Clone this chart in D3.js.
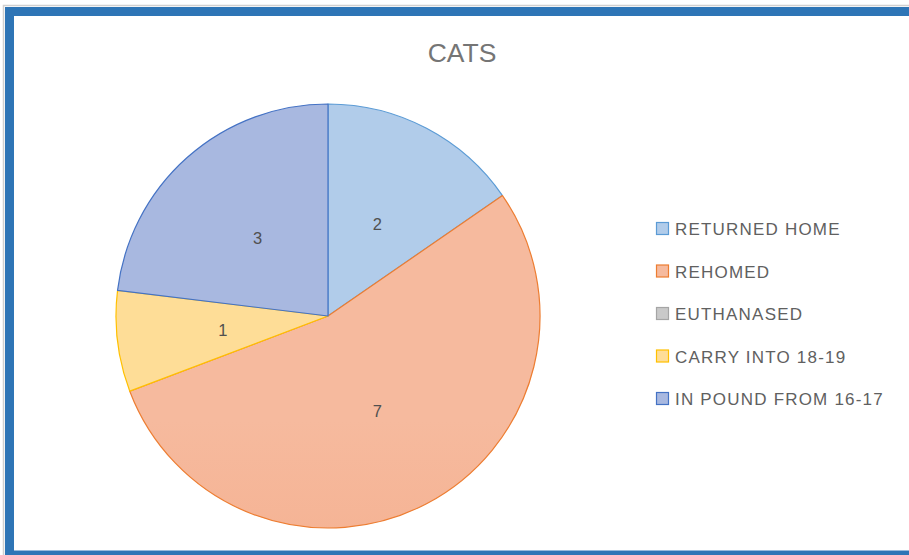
<!DOCTYPE html>
<html><head><meta charset="utf-8">
<script src="https://cdn.jsdelivr.net/npm/d3@7"></script>
<style>html,body{margin:0;padding:0;background:#fff;}svg{display:block;}</style>
</head><body>
<svg id="c" width="909" height="555"></svg>
<script>
const title = "CATS";
const categories = ["RETURNED HOME", "REHOMED", "EUTHANASED", "CARRY INTO 18-19", "IN POUND FROM 16-17"];
const values = [2, 7, 0, 1, 3];
const strokeColors = ["#5B9BD5", "#ED7D31", "#A5A5A5", "#FFC000", "#4472C4"];
const fillTop = ["#B1CCEA", "#F6BA9E", "#C9C9C9", "#FEDD97", "#A8B8E0"];
const fillBottom = ["#9BBAE3", "#F3A37D", "#B5B5B5", "#FCD27D", "#889ED5"];

const svg = d3.select("#c");
const W = 909, H = 555;
svg.append("rect").attr("x",0).attr("y",0).attr("width",W).attr("height",H).attr("fill","#fff");
// frame
svg.append("rect").attr("x",3.5).attr("y",5.5).attr("width",W+10).attr("height",H-3).attr("fill","none").attr("stroke","#D0D0D0").attr("stroke-width",1.5);
svg.append("rect").attr("x",9.5).attr("y",11.5).attr("width",W+10).attr("height",543.5).attr("fill","none").attr("stroke","#2E75B6").attr("stroke-width",9);

const defs = svg.append("defs");
const cx = 328, cy = 316, R = 212;
categories.forEach((c,i)=>{
  const g = defs.append("linearGradient").attr("id","g"+i)
    .attr("gradientUnits","userSpaceOnUse").attr("x1",0).attr("y1",cy-R).attr("x2",0).attr("y2",cy+R);
  g.append("stop").attr("offset","0%").attr("stop-color",fillTop[i]);
  g.append("stop").attr("offset","100%").attr("stop-color",fillBottom[i]);
});

svg.append("text").attr("x",462).attr("y",62).attr("text-anchor","middle")
  .attr("font-family","Liberation Sans, Arial, sans-serif").attr("font-size",26.5).attr("fill","#757575").text(title);

const data = categories.map((c,i)=>({c, v: values[i], i}));
const pie = d3.pie().sort(null).value(d=>d.v);
const arcs = pie(data);
const arc = d3.arc().innerRadius(0).outerRadius(R);
const gp = svg.append("g").attr("transform",`translate(${cx},${cy})`);
gp.selectAll("path").data(arcs.filter(a=>a.data.v>0)).join("path")
  .attr("d",arc).attr("fill",d=>`url(#g${d.data.i})`)
  .attr("stroke",d=>strokeColors[d.data.i]).attr("stroke-width",1.2).attr("stroke-linejoin","round");
gp.selectAll("text").data(arcs.filter(a=>a.data.v>0)).join("text")
  .attr("transform",d=>`translate(${arc.centroid(d)})`)
  .attr("text-anchor","middle").attr("dy","0.45em")
  .attr("font-family","Liberation Sans, Arial, sans-serif").attr("font-size",16.5).attr("fill","#505050")
  .text(d=>d.data.v);

const leg = svg.append("g");
const rowY = d3.scalePoint().domain(categories).range([229, 399]);
categories.forEach((c,i)=>{
  const y = rowY(c);
  leg.append("rect").attr("x",656.5).attr("y",y-6.5).attr("width",12).attr("height",12)
    .attr("fill", fillTop[i]).attr("stroke",strokeColors[i]).attr("stroke-width",1.2);
  leg.append("text").attr("x",675).attr("y",y).attr("dy","0.36em").attr("letter-spacing",1.2)
    .attr("font-family","Liberation Sans, Arial, sans-serif").attr("font-size",17).attr("fill","#606060").text(c);
});
</script>
</body></html>
